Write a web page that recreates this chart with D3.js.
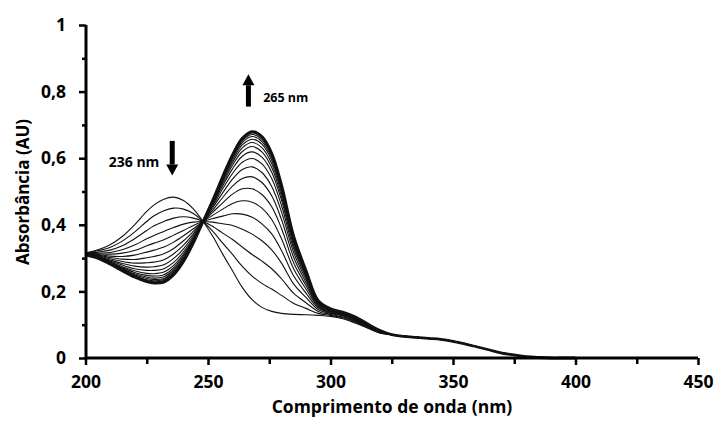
<!DOCTYPE html>
<html>
<head>
<meta charset="utf-8">
<script src="https://cdn.jsdelivr.net/npm/d3@7"></script>
<style>
  body { margin: 0; background: #fff; }
  text { font-family: "Open Sans", sans-serif; font-weight: bold; fill: #000; }
</style>
</head>
<body>
<svg width="716" height="426"></svg>
<script>
var wavelengths = [200, 205, 210, 215, 220, 225, 228, 232, 236, 240, 244, 248, 252, 256,
  260, 264, 268, 272, 276, 280, 285, 290, 295, 300, 305, 310, 315, 320];

// the long-wavelength tail is the same for every scan
var tailWavelengths = [325, 330, 335, 340, 345, 350, 355, 360, 365, 370, 375, 380, 385, 390, 395, 400];
var tailValues = [0.070, 0.065, 0.062, 0.059, 0.056, 0.050, 0.042, 0.033, 0.024, 0.015, 0.009, 0.004, 0.0015, 0, 0, 0];

// successive scans, first (236 nm max) to last (265 nm max)
var scan01 = [0.315, 0.325, 0.340, 0.365, 0.400, 0.440, 0.460, 0.477, 0.483, 0.473, 0.448, 0.410, 0.365, 0.312, 0.262, 0.212, 0.175, 0.152, 0.140, 0.134, 0.131, 0.130, 0.128, 0.125, 0.118, 0.105, 0.090, 0.075];
var scan02 = [0.314, 0.322, 0.332, 0.351, 0.378, 0.410, 0.427, 0.442, 0.450, 0.447, 0.434, 0.410, 0.380, 0.345, 0.311, 0.275, 0.246, 0.224, 0.207, 0.188, 0.164, 0.149, 0.134, 0.128, 0.121, 0.108, 0.092, 0.076];
var scan03 = [0.314, 0.318, 0.324, 0.337, 0.358, 0.383, 0.397, 0.410, 0.420, 0.424, 0.420, 0.410, 0.395, 0.375, 0.356, 0.333, 0.311, 0.291, 0.268, 0.238, 0.194, 0.166, 0.140, 0.131, 0.123, 0.110, 0.094, 0.077];
var scan04 = [0.313, 0.315, 0.317, 0.325, 0.339, 0.358, 0.368, 0.380, 0.392, 0.402, 0.408, 0.410, 0.408, 0.403, 0.398, 0.387, 0.372, 0.352, 0.325, 0.285, 0.222, 0.182, 0.145, 0.134, 0.126, 0.112, 0.095, 0.078];
var scan05 = [0.313, 0.313, 0.312, 0.315, 0.323, 0.337, 0.345, 0.355, 0.369, 0.383, 0.398, 0.410, 0.419, 0.426, 0.433, 0.432, 0.423, 0.403, 0.373, 0.323, 0.246, 0.195, 0.150, 0.136, 0.128, 0.114, 0.096, 0.079];
var scan06 = [0.312, 0.311, 0.306, 0.305, 0.309, 0.318, 0.324, 0.333, 0.348, 0.367, 0.388, 0.410, 0.429, 0.447, 0.464, 0.472, 0.468, 0.450, 0.416, 0.358, 0.267, 0.207, 0.154, 0.138, 0.130, 0.116, 0.098, 0.080];
var scan07 = [0.312, 0.309, 0.302, 0.297, 0.296, 0.301, 0.305, 0.313, 0.329, 0.352, 0.380, 0.410, 0.438, 0.466, 0.492, 0.508, 0.508, 0.491, 0.454, 0.389, 0.285, 0.218, 0.157, 0.140, 0.131, 0.118, 0.099, 0.080];
var scan08 = [0.311, 0.307, 0.298, 0.290, 0.285, 0.286, 0.288, 0.295, 0.313, 0.339, 0.373, 0.410, 0.445, 0.482, 0.516, 0.539, 0.544, 0.527, 0.487, 0.416, 0.302, 0.227, 0.160, 0.142, 0.133, 0.119, 0.100, 0.081];
var scan09 = [0.311, 0.305, 0.294, 0.284, 0.276, 0.273, 0.274, 0.280, 0.299, 0.328, 0.367, 0.410, 0.452, 0.496, 0.537, 0.566, 0.574, 0.557, 0.515, 0.439, 0.316, 0.235, 0.163, 0.143, 0.134, 0.120, 0.100, 0.081];
var scan10 = [0.311, 0.304, 0.291, 0.279, 0.268, 0.263, 0.263, 0.268, 0.287, 0.319, 0.362, 0.410, 0.457, 0.508, 0.554, 0.588, 0.599, 0.583, 0.539, 0.458, 0.328, 0.242, 0.165, 0.144, 0.135, 0.121, 0.101, 0.082];
var scan11 = [0.311, 0.303, 0.289, 0.274, 0.262, 0.254, 0.253, 0.258, 0.278, 0.312, 0.357, 0.410, 0.462, 0.517, 0.568, 0.606, 0.619, 0.603, 0.558, 0.474, 0.337, 0.247, 0.167, 0.145, 0.136, 0.122, 0.101, 0.082];
var scan12 = [0.310, 0.302, 0.287, 0.271, 0.257, 0.248, 0.246, 0.250, 0.271, 0.307, 0.354, 0.410, 0.465, 0.524, 0.579, 0.620, 0.635, 0.619, 0.572, 0.485, 0.344, 0.251, 0.168, 0.146, 0.136, 0.122, 0.102, 0.082];
var scan13 = [0.310, 0.302, 0.286, 0.269, 0.253, 0.243, 0.240, 0.244, 0.265, 0.302, 0.352, 0.410, 0.468, 0.530, 0.587, 0.631, 0.647, 0.632, 0.584, 0.495, 0.350, 0.254, 0.169, 0.147, 0.137, 0.123, 0.102, 0.083];
var scan14 = [0.310, 0.301, 0.285, 0.267, 0.250, 0.239, 0.236, 0.239, 0.261, 0.298, 0.350, 0.410, 0.470, 0.535, 0.594, 0.640, 0.657, 0.642, 0.594, 0.503, 0.355, 0.257, 0.170, 0.147, 0.137, 0.123, 0.102, 0.083];
var scan15 = [0.310, 0.301, 0.284, 0.265, 0.248, 0.235, 0.232, 0.236, 0.257, 0.296, 0.348, 0.410, 0.472, 0.538, 0.600, 0.647, 0.665, 0.650, 0.601, 0.508, 0.358, 0.259, 0.171, 0.147, 0.137, 0.123, 0.103, 0.083];
var scan16 = [0.310, 0.300, 0.283, 0.264, 0.246, 0.233, 0.229, 0.233, 0.254, 0.293, 0.347, 0.410, 0.473, 0.541, 0.604, 0.652, 0.671, 0.656, 0.607, 0.513, 0.361, 0.261, 0.171, 0.148, 0.138, 0.124, 0.103, 0.083];
var scan17 = [0.310, 0.300, 0.282, 0.263, 0.244, 0.231, 0.227, 0.230, 0.252, 0.291, 0.346, 0.410, 0.474, 0.543, 0.607, 0.656, 0.676, 0.661, 0.611, 0.517, 0.363, 0.262, 0.172, 0.148, 0.138, 0.124, 0.103, 0.083];
var scan18 = [0.310, 0.300, 0.282, 0.262, 0.243, 0.229, 0.225, 0.228, 0.250, 0.290, 0.345, 0.410, 0.475, 0.545, 0.610, 0.660, 0.680, 0.665, 0.615, 0.520, 0.365, 0.263, 0.172, 0.148, 0.138, 0.124, 0.103, 0.083];

var scans = [scan01, scan02, scan03, scan04, scan05, scan06, scan07, scan08, scan09,
  scan10, scan11, scan12, scan13, scan14, scan15, scan16, scan17, scan18];

var xTicks = [200, 250, 300, 350, 400, 450];
var xMinorTicks = [225, 275, 325, 375, 425];
var yTicks = [0, 0.2, 0.4, 0.6, 0.8, 1];
var yMinorTicks = [0.1, 0.3, 0.5, 0.7, 0.9];

// arrows: [wavelength, from absorbance, to absorbance]
var arrows = [[266.5, 0.755, 0.852], [235.4, 0.652, 0.548]];
var labels = [{ text: '265 nm', w: 272.5, a: 0.768, size: 12.5 }, { text: '236 nm', w: 209.5, a: 0.574, size: 14 }];

var svg = d3.select('svg');
var x = d3.scaleLinear().domain([200, 450]).range([85.5, 698]);
var y = d3.scaleLinear().domain([0, 1]).range([358, 25]);

var line = d3.line()
  .x(function(d) { return x(d[0]); })
  .y(function(d) { return y(d[1]); })
  .curve(d3.curveCatmullRom.alpha(0.5));

var toPoints = function(vals) {
  var pts = wavelengths.map(function(w, i) { return [w, vals[i]]; });
  return pts.concat(tailWavelengths.map(function(w, i) { return [w, tailValues[i]]; }));
};

var plot = svg.append('g');
plot.selectAll('.scan')
  .data(scans)
  .enter()
  .append('path')
  .attr('class', 'scan')
  .attr('d', function(d) { return line(toPoints(d)); })
  .attr('fill', 'none')
  .attr('stroke', '#111')
  .attr('stroke-width', function(d, i) { return i === scans.length - 1 ? 2.8 : 1.1; });

// axes
var xAxis = svg.append('g').attr('transform', 'translate(0,358)')
  .call(d3.axisBottom(x).tickValues(xTicks).tickSize(7).tickPadding(11).tickFormat(d3.format('d')));
var xMinor = svg.append('g').attr('transform', 'translate(0,358)')
  .call(d3.axisBottom(x).tickValues(xMinorTicks).tickSize(6).tickFormat(''));
var yAxis = svg.append('g').attr('transform', 'translate(86,0)')
  .call(d3.axisLeft(y).tickValues(yTicks).tickSize(7).tickPadding(13)
    .tickFormat(function(d) { return d === 0 || d === 1 ? d : String(d).replace('.', ','); }));
var yMinor = svg.append('g').attr('transform', 'translate(86,0)')
  .call(d3.axisLeft(y).tickValues(yMinorTicks).tickSize(4).tickFormat(''));

[xAxis, xMinor, yAxis, yMinor].forEach(function(g) {
  g.select('.domain').attr('stroke', '#000').attr('stroke-width', 3);
  g.selectAll('.tick line').attr('stroke', '#000').attr('stroke-width', 2.5);
  g.selectAll('.tick text').style('font-size', '17.5px').style('font-weight', 'bold').attr('fill', '#000');
});
xMinor.select('.domain').remove();
yMinor.select('.domain').remove();
xAxis.select('.domain').attr('d', 'M85,0H698');
yAxis.select('.domain').attr('d', 'M0,358V25');

svg.append('text')
  .attr('x', 392).attr('y', 413)
  .attr('text-anchor', 'middle')
  .style('font-size', '17.5px')
  .text('Comprimento de onda (nm)');

svg.append('text')
  .attr('transform', 'translate(29,192) rotate(-90)')
  .attr('text-anchor', 'middle')
  .style('font-size', '17px')
  .text('Absorbância (AU)');

// annotation arrows
arrows.forEach(function(a) {
  var ax = x(a[0]);
  var y0 = y(a[1]);
  var y1 = y(a[2]);
  var dir = y1 < y0 ? -1 : 1;
  var head = 11;
  svg.append('line')
    .attr('x1', ax).attr('x2', ax)
    .attr('y1', y0).attr('y2', y1 - dir * head)
    .attr('stroke', '#000').attr('stroke-width', 5);
  svg.append('path')
    .attr('d', 'M' + (ax - 6) + ',' + (y1 - dir * head) + 'L' + (ax + 6) + ',' + (y1 - dir * head) + 'L' + ax + ',' + y1 + 'Z')
    .attr('fill', '#000');
});

svg.selectAll('.note')
  .data(labels)
  .enter()
  .append('text')
  .attr('class', 'note')
  .attr('x', function(d) { return x(d.w); })
  .attr('y', function(d) { return y(d.a); })
  .style('font-size', function(d) { return d.size + 'px'; })
  .text(function(d) { return d.text; });
</script>
</body>
</html>
